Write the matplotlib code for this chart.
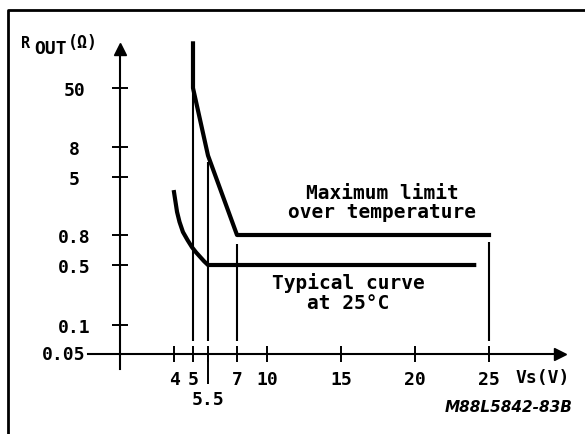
import numpy as np
import matplotlib
matplotlib.use('Agg')
import matplotlib.pyplot as plt
from matplotlib.lines import Line2D

# schematic datasheet chart: R_OUT vs Vs

# tick values of the (non uniform) axes
x_ticks = [4, 5, 5.5, 7, 10, 15, 20, 25]
x_labels = ['4', '5', '', '7', '10', '15', '20', '25']
y_ticks = [0.05, 0.1, 0.5, 0.8, 5, 8, 50]
y_labels = ['0.05', '0.1', '0.5', '0.8', '5', '8', '50']

# maximum limit over temperature
max_v = [5, 5, 5.5, 7, 25]
max_r = [200, 50, 7, 0.8, 0.8]

# typical curve at 25 C
typ_v = [4.0, 4.08, 4.16, 4.29, 4.47, 4.71, 4.95, 5.1, 5.23, 5.37, 5.5, 24]
typ_r = [3.1, 2.27, 1.66, 1.21, 0.88, 0.74, 0.66, 0.61, 0.57, 0.53, 0.5, 0.5]

# guide lines down to the axis
guide_v = [5, 5.5, 7, 25]
guide_top = [50, 6.3, 0.69, 0.72]
guide_bottom = 0.068

# where the ticks sit on the drawing (pixels of a 585x435 figure)
x_tick_px = [174, 193, 208, 237, 267, 341, 415, 489]
y_tick_px = [435 - p for p in [355, 326, 266, 236, 178, 148, 89]]


def pw(x, xp, fp):
    x = np.asarray(x, dtype=float)
    y = np.interp(x, xp, fp)
    lo = x < xp[0]
    hi = x > xp[-1]
    y = np.where(lo, fp[0] + (x - xp[0]) * (fp[1] - fp[0]) / (xp[1] - xp[0]), y)
    y = np.where(hi, fp[-1] + (x - xp[-1]) * (fp[-1] - fp[-2]) / (xp[-1] - xp[-2]), y)
    return y


ly = np.log(y_ticks)
fx = lambda v: pw(v, x_ticks, x_tick_px)
ix = lambda p: pw(p, x_tick_px, x_ticks)
fy = lambda v: pw(np.log(np.clip(v, 1e-12, None)), ly, y_tick_px)
iy = lambda p: np.exp(pw(p, y_tick_px, ly))

plt.rcParams['font.family'] = 'DejaVu Sans Mono'
plt.rcParams['font.weight'] = 'bold'

fig = plt.figure(figsize=(5.85, 4.35), dpi=100)
ax = fig.add_axes([120/585, 80/435, 440/585, 305/435])
ax.set_xscale('function', functions=(fx, ix))
ax.set_yscale('function', functions=(fy, iy))
ax.set_xlim(float(ix(120)), float(ix(560)))
ax.set_ylim(float(iy(80)), float(iy(385)))

for s in ['top', 'right']:
    ax.spines[s].set_visible(False)
for s in ['left', 'bottom']:
    ax.spines[s].set_linewidth(1.5)

ax.set_xticks(x_ticks, x_labels)
ax.set_xticks([5.5], ['5.5'], minor=True)
ax.xaxis.remove_overlapping_locs = False
ax.set_yticks(y_ticks[1:], y_labels[1:])
ax.yaxis.set_minor_locator(matplotlib.ticker.NullLocator())
ax.tick_params(axis='x', which='major', direction='inout', length=11.5, width=1.4,
               pad=5.5, labelsize=13)
ax.tick_params(axis='x', which='minor', direction='out', length=21.6, width=1.4,
               pad=4.5, labelsize=13)
ax.tick_params(axis='y', direction='inout', length=11.5, width=1.4,
               pad=27, labelsize=13)
for t in ax.get_yticklabels():
    t.set_ha('center')

# axis extensions and arrow heads
ax.plot([-32/440, 0], [0, 0], transform=ax.transAxes, color='black', lw=1.5, clip_on=False)
ax.plot([0, 0], [-15/305, 0], transform=ax.transAxes, color='black', lw=1.5, clip_on=False)
ax.plot([1], [0], '>', ms=8, color='black', transform=ax.transAxes, clip_on=False)
ax.plot([0], [1], '^', ms=8, color='black', transform=ax.transAxes, clip_on=False)
ax.text(-35/440, y_ticks[0], y_labels[0], transform=ax.get_yaxis_transform(),
        ha='right', va='center', fontsize=13)

# curves
ax.vlines(guide_v, guide_bottom, guide_top, color='black', lw=1.5)
ax.plot(max_v, max_r, color='black', lw=3, clip_on=False)
ax.plot(typ_v, typ_r, color='black', lw=3, clip_on=False)

# labels
ax.text(ix(382), iy(435 - 203), 'Maximum limit\nover temperature', ha='center',
        va='center', fontsize=14, linespacing=1.05)
ax.text(ix(348), iy(435 - 293), 'Typical curve\nat 25°C', ha='center',
        va='center', fontsize=14, linespacing=1.05)
fig.text(515/585, 1 - 378/435, 'Vs(V)', ha='left', va='center', fontsize=13)
fig.text(573/585, 1 - 408/435, 'M88L5842-83B', ha='right', va='center',
         fontsize=11, family='DejaVu Sans', style='italic', weight='bold')
fig.text(21/585, 1 - 43/435, 'R', ha='left', va='center', fontsize=11)
fig.text(34/585, 1 - 49/435, 'OUT', ha='left', va='center', fontsize=13)
fig.text(68/585, 1 - 43/435, '(Ω)', ha='left', va='center', fontsize=12)

# frame of the figure (right and bottom lie outside the picture)
fig.add_artist(Line2D([8/585, 8/585, 1], [0, 1 - 11/435, 1 - 11/435],
                      transform=fig.transFigure, color='black', lw=2))

fig.savefig('out.png', dpi=100)
